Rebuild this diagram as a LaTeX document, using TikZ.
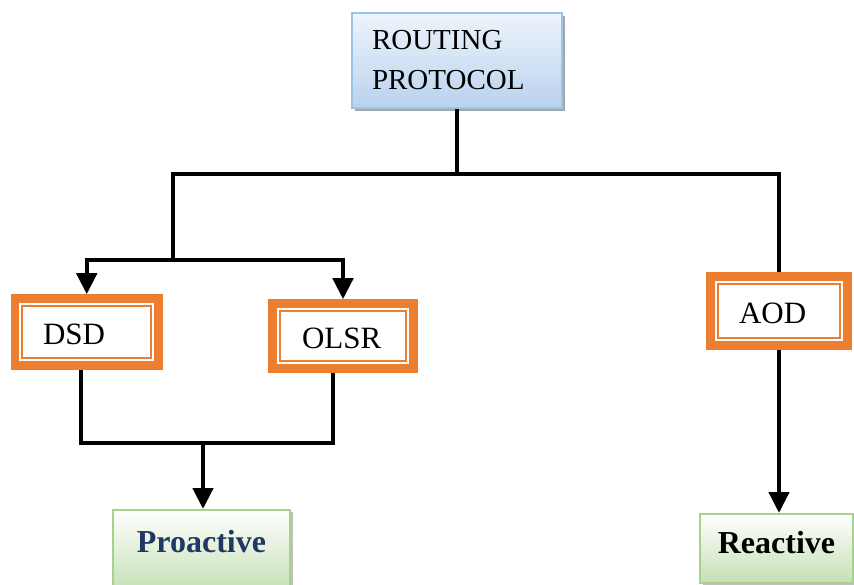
\documentclass[tikz,border=0pt]{standalone}
\usepackage{fontspec}
\setmainfont{Liberation Serif}
\usepackage{tikz}
\usetikzlibrary{arrows.meta,positioning,shadows}
\definecolor{boxorange}{HTML}{ED7D31}
\definecolor{blueline}{HTML}{9DC3E6}
\definecolor{bluetop}{HTML}{EEF4FB}
\definecolor{bluebot}{HTML}{B9D2EE}
\definecolor{greenline}{HTML}{A9D18E}
\definecolor{greenbot}{HTML}{C5E0B4}
\definecolor{navy}{HTML}{1F3864}
\tikzset{
  routebox/.style={draw=blueline,line width=1.6pt,top color=bluetop,
                   bottom color=bluebot,align=left,inner xsep=20pt,
                   minimum width=210pt,minimum height=95pt,
                   general shadow={shadow xshift=3pt,shadow yshift=-3pt,
                                   fill=black!35},
                   font=\fontsize{29}{40}\selectfont},
  protobox/.style={draw=boxorange,line width=8.5pt,fill=white,align=left,
                   text height=26pt,font=\fontsize{31}{36}\selectfont},
  innerline/.style={draw=boxorange,line width=1.6pt},
  classbox/.style={draw=greenline,line width=1.6pt,top color=white,
                   bottom color=greenbot,anchor=north,inner xsep=0pt,
                   general shadow={shadow xshift=2.5pt,shadow yshift=-2.5pt,
                                   fill=black!25},
                   font=\fontsize{32}{36}\selectfont\bfseries},
  link/.style={line width=4.5pt,draw=black},
  arr/.style={link,-{Triangle[length=21pt,width=20pt]}}
}
\begin{document}
\begin{tikzpicture}[x=1pt,y=-1pt]
    \path[use as bounding box] (0,0) rectangle (854,585);

    % boxes
    \node[routebox,text width=170pt] (routing) at (457,60.5)
      {ROUTING\\PROTOCOL};
    \node[protobox,text width=87.5pt,inner xsep=28pt,minimum height=67pt]
      (dsd) at (86.75,332) {DSD};
    \node[protobox,text width=82pt,inner xsep=29.5pt,minimum height=65pt]
      (olsr) at (343,336) {OLSR};
    \node[protobox,text width=80pt,inner xsep=28.5pt,minimum height=69pt]
      (aod) at (779,311) {AOD};
    \foreach \n in {dsd,olsr,aod}{
      \draw[innerline] ([xshift=11.5pt,yshift=-11.5pt]\n.north west)
        rectangle ([xshift=-11.5pt,yshift=11.5pt]\n.south east);
    }
    \node[classbox,text=navy,minimum width=177pt,text height=23pt,
      text depth=18pt,inner ysep=20pt] (proactive) at (201.5,509) {Proactive};
    \node[classbox,minimum width=153pt,text height=30pt,text depth=19pt,
      inner ysep=10pt] (reactive) at (776.5,513) {Reactive};

    % junctions
    \coordinate (hl) at (173,174);
    \coordinate (hr) at (aod.north |- hl);
    \coordinate (jl) at (173,260);
    \coordinate (jb) at (203,443);

    % connectors
    \draw[link] (routing.south) -- (routing.south |- hl);
    \draw[link] ([xshift=-2.25pt]hl) -- ([xshift=2.25pt]hr);
    \draw[link] (hl) -- (jl);
    \draw[link] ([xshift=-2.25pt]dsd.north |- jl)
      -- ([xshift=2.25pt]olsr.north |- jl);
    \draw[arr] (dsd.north |- jl) -- (dsd.north);
    \draw[arr] (olsr.north |- jl) -- (olsr.north);
    \draw[link] (hr) -- (aod.north);
    \draw[link] ([xshift=-6pt]dsd.south) |- (jb)
      -| ([xshift=-10pt]olsr.south);
    \draw[arr] (jb) -- (jb |- proactive.north);
    \draw[arr] (aod.south) -- (aod.south |- reactive.north);
\end{tikzpicture}
\end{document}
